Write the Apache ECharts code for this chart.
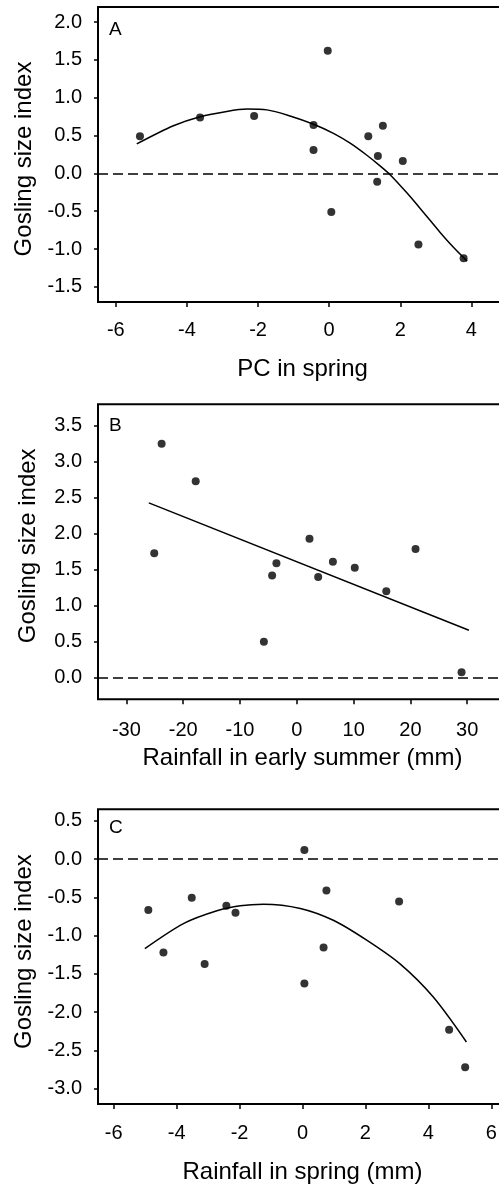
<!DOCTYPE html>
<html><head><meta charset="utf-8">
<script src="https://cdn.jsdelivr.net/npm/echarts@6/dist/echarts.min.js"></script>
<style>html,body{margin:0;padding:0;background:#fff;}#c{width:499px;height:1187px;}</style>
</head><body><div id="c"></div>
<script>
// Panel A: PC in spring
const xA = [-5.32, -3.63, -2.11, -0.44, -0.44, -0.04, 0.06, 1.10, 1.51, 1.37, 1.35, 2.07, 2.51, 3.78];
const yA = [0.49, 0.74, 0.76, 0.64, 0.31, 1.62, -0.51, 0.49, 0.63, 0.23, -0.11, 0.165, -0.94, -1.12];
const fitAx = [-5.41, -4.38, -3.63, -2.88, -2.31, -1.75, -1.10, -0.44, 0.12, 0.59, 1.06, 1.43, 1.72, 2.19, 2.66, 3.12, 3.50, 3.88];
const fitAy = [0.39, 0.63, 0.75, 0.82, 0.85, 0.84, 0.76, 0.65, 0.53, 0.40, 0.24, 0.10, -0.02, -0.26, -0.52, -0.78, -0.98, -1.16];
const xTicksA = [-6, -4, -2, 0, 2, 4];
const yTicksA = [-1.5, -1.0, -0.5, 0.0, 0.5, 1.0, 1.5, 2.0];

// Panel B: Rainfall in early summer
const xB = [-25.1, -23.8, -17.8, -5.8, -4.35, -3.59, 2.23, 3.76, 6.35, 10.2, 15.75, 20.9, 29.0];
const yB = [1.73, 3.25, 2.73, 0.50, 1.42, 1.59, 1.93, 1.40, 1.61, 1.53, 1.20, 1.79, 0.075];
const fitBx = [-26.05, 30.3];
const fitBy = [2.43, 0.66];
const xTicksB = [-30, -20, -10, 0, 10, 20, 30];
const yTicksB = [0.0, 0.5, 1.0, 1.5, 2.0, 2.5, 3.0, 3.5];

// Panel C: Rainfall in spring
const xC = [-4.90, -4.42, -3.52, -3.11, -2.42, -2.13, 0.06, 0.06, 0.67, 0.76, 3.07, 4.66, 5.17];
const yC = [-0.667, -1.22, -0.505, -1.37, -0.61, -0.70, 0.118, -1.625, -1.155, -0.41, -0.553, -2.23, -2.72];
const fitCx = [-5.01, -3.77, -2.72, -1.98, -1.24, -0.07, 0.98, 2.04, 3.10, 4.15, 5.21];
const fitCy = [-1.17, -0.84, -0.675, -0.61, -0.59, -0.645, -0.80, -1.06, -1.37, -1.80, -2.39];
const xTicksC = [-6, -4, -2, 0, 2, 4, 6];
const yTicksC = [-3.0, -2.5, -2.0, -1.5, -1.0, -0.5, 0.0, 0.5];

const zip = (a, b) => a.map((v, i) => [v, b[i]]);
const FONT = 'Liberation Sans';

const panels = [
  {top: 7, height: 295, xmin: -6.5, xmax: 5, ymin: -1.7, ymax: 2.2, xt: xTicksA, yt: yTicksA,
   xname: 'PC in spring', xgap: 55, xm: 18, ypad: [0, 9, 0, 0], letter: 'A', ltop: 15,
   pts: zip(xA, yA), fit: zip(fitAx, fitAy), sm: 0.3},
  {top: 404.3, height: 295, xmin: -35, xmax: 37, ymin: -0.3, ymax: 3.8, xt: xTicksB, yt: yTicksB,
   xname: 'Rainfall in early summer (mm)', xgap: 47, xm: 21, ypad: [0, 0, 0, 12], letter: 'B', ltop: 411,
   pts: zip(xB, yB), fit: zip(fitBx, fitBy), sm: 0},
  {top: 809.3, height: 294.7, xmin: -6.5, xmax: 6.5, ymin: -3.2, ymax: 0.65, xt: xTicksC, yt: yTicksC,
   xname: 'Rainfall in spring (mm)', xgap: 56, xm: 19, ypad: [0, 0, 0, 10], letter: 'C', ltop: 813,
   pts: zip(xC, yC), fit: zip(fitCx, fitCy), sm: 0.3}
];

const option = {
  animation: false,
  backgroundColor: '#fff',
  title: panels.map(p => ({text: p.letter, left: 104, top: p.ltop,
    textStyle: {fontFamily: FONT, fontSize: 19, fontWeight: 'normal', color: '#000'}})),
  grid: panels.map(p => ({left: 98, top: p.top, width: 409, height: p.height,
    outerBoundsMode: 'none', containLabel: false,
    show: true, borderColor: '#000', borderWidth: 2, backgroundColor: 'transparent'})),
  xAxis: panels.map((p, i) => ({
    type: 'value', gridIndex: i, min: p.xmin, max: p.xmax,
    name: p.xname, nameLocation: 'middle', nameGap: p.xgap,
    nameTextStyle: {fontFamily: FONT, fontSize: 24, color: '#000'},
    axisLine: {show: false, onZero: false}, splitLine: {show: false},
    axisTick: {show: true, length: 5, lineStyle: {color: '#000', width: 1.5}, customValues: p.xt},
    axisLabel: {customValues: p.xt, fontFamily: FONT, fontSize: 20, color: '#000', margin: p.xm,
      formatter: v => String(v)}
  })),
  yAxis: panels.map((p, i) => ({
    type: 'value', gridIndex: i, min: p.ymin, max: p.ymax,
    name: 'Gosling size index', nameLocation: 'middle', nameGap: 58,
    nameTextStyle: {fontFamily: FONT, fontSize: 24, color: '#000', padding: p.ypad},
    axisLine: {show: false, onZero: false}, splitLine: {show: false},
    axisTick: {show: true, length: 4, lineStyle: {color: '#000', width: 1.5}, customValues: p.yt},
    axisLabel: {customValues: p.yt, fontFamily: FONT, fontSize: 20, color: '#000', margin: 16,
      formatter: v => Number(v).toFixed(1)}
  })),
  series: panels.flatMap((p, i) => [
    {type: 'line', xAxisIndex: i, yAxisIndex: i, data: p.fit, showSymbol: false, smooth: p.sm,
      lineStyle: {color: '#000', width: 1.5}, z: 3, silent: true,
      markLine: {silent: true, symbol: 'none', label: {show: false},
        lineStyle: {color: '#000', width: 1.5, type: [10, 5]}, data: [{yAxis: 0}]}},
    {type: 'scatter', xAxisIndex: i, yAxisIndex: i, data: p.pts, symbol: 'circle', symbolSize: 8,
      itemStyle: {color: '#000'}, z: 4}
  ])
};
echarts.init(document.getElementById('c'), null, {renderer: 'canvas'}).setOption(option);
</script></body></html>
